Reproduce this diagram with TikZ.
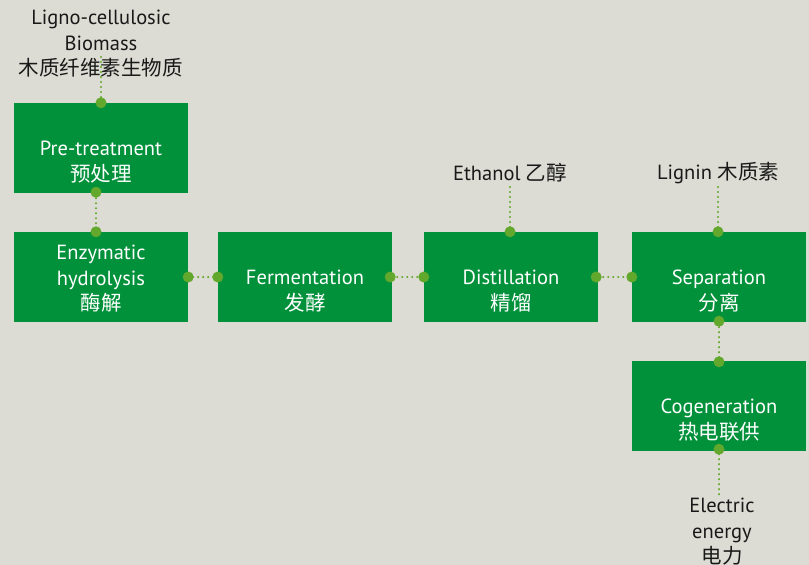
\documentclass[tikz,border=0pt]{standalone}
\usepackage{fontspec}
\setmainfont{PT Sans}
\newfontfamily\cjk{Noto Sans CJK SC}
\definecolor{boxgreen}{HTML}{00913A}
\definecolor{dotgreen}{HTML}{62A82C}
\definecolor{bgcol}{HTML}{DCDCD4}
\tikzset{
  stepbox/.style={fill=boxgreen, minimum width=174pt, minimum height=90pt, inner sep=0pt, draw=none},
  boxtext/.style={text=white, align=center, inner sep=0pt, font=\fontsize{20.5}{25.5}\selectfont},
  outtext/.style={text=black!90, align=center, inner sep=0pt, font=\fontsize{20.5}{25.5}\selectfont},
  conn/.style={dotgreen, line width=2.4pt, dash pattern=on 0pt off 5pt, line cap=round},
  gdot/.style={circle, fill=dotgreen, minimum size=11pt, inner sep=0pt}
}
\begin{document}
\begin{tikzpicture}[x=1pt,y=-1pt]
\fill[bgcol] (0,0) rectangle (809,565);
\useasboundingbox (0,0) rectangle (809,565);
% boxes
\node[stepbox] (pre) at (101,148) {};
\node[stepbox] (enz) at (101,277) {};
\node[stepbox] (fer) at (305,277) {};
\node[stepbox] (dis) at (511,277) {};
\node[stepbox] (sep) at (719,277) {};
\node[stepbox] (cog) at (719,406) {};
% free ends
\coordinate (bioend) at (101,57);
\coordinate (ethend) at (510,187);
\coordinate (ligend) at (718,187);
\coordinate (eleend) at (719,495);
% connectors
\draw[conn] (bioend) -- (pre.north);
\draw[conn] ([xshift=-5pt]pre.south) -- ([xshift=-5pt]enz.north);
\draw[conn] (enz.east) -- (fer.west);
\draw[conn] (fer.east) -- (dis.west);
\draw[conn] (dis.east) -- (sep.west);
\draw[conn] (ethend) -- ([xshift=-1pt]dis.north);
\draw[conn] (ligend) -- ([xshift=-1pt]sep.north);
\draw[conn] (sep.south) -- (cog.north);
\draw[conn] ([yshift=2pt]cog.south) -- (eleend);
% dots
\node[gdot] at (pre.north) {};
\node[gdot] at ([xshift=-5pt,yshift=1pt]pre.south) {};
\node[gdot] at ([xshift=-5pt]enz.north) {};
\node[gdot] at (enz.east) {};
\node[gdot] at (fer.west) {};
\node[gdot] at ([xshift=-2pt]fer.east) {};
\node[gdot] at (dis.west) {};
\node[gdot] at ([xshift=-1pt]dis.north) {};
\node[gdot] at ([xshift=-2pt]dis.east) {};
\node[gdot] at (sep.west) {};
\node[gdot] at ([xshift=-1pt]sep.north) {};
\node[gdot] at ([yshift=1pt]sep.south) {};
\node[gdot] at ([yshift=-1pt]cog.north) {};
\node[gdot] at ([yshift=2pt]cog.south) {};
% box texts
\node[boxtext] (pret) at ([yshift=-14pt]pre.center) {Pre-treatment\\{\cjk 预处理}};
\node[boxtext] (enzt) at ([yshift=-2pt]enz.center) {Enzymatic\\hydrolysis\\{\cjk 酶解}};
\node[boxtext] (fert) at ([yshift=-14pt]fer.center) {Fermentation\\{\cjk 发酵}};
\node[boxtext] (dist) at ([yshift=-14pt]dis.center) {Distillation\\{\cjk 精馏}};
\node[boxtext] (sept) at ([yshift=-14pt]sep.center) {Separation\\{\cjk 分离}};
\node[boxtext] (cogt) at ([yshift=-14pt]cog.center) {Cogeneration\\{\cjk 热电联供}};
% outside texts
\node[outtext] (bio) at (101,44) {Ligno-cellulosic\\Biomass\\{\cjk 木质纤维素生物质}};
\node[outtext] (eth) at (510,173) {Ethanol {\cjk 乙醇}};
\node[outtext] (lig) at (718,173) {Lignin {\cjk 木质素}};
\node[outtext] (ele) at (722,532) {Electric\\energy\\{\cjk 电力}};
\end{tikzpicture}
\end{document}
